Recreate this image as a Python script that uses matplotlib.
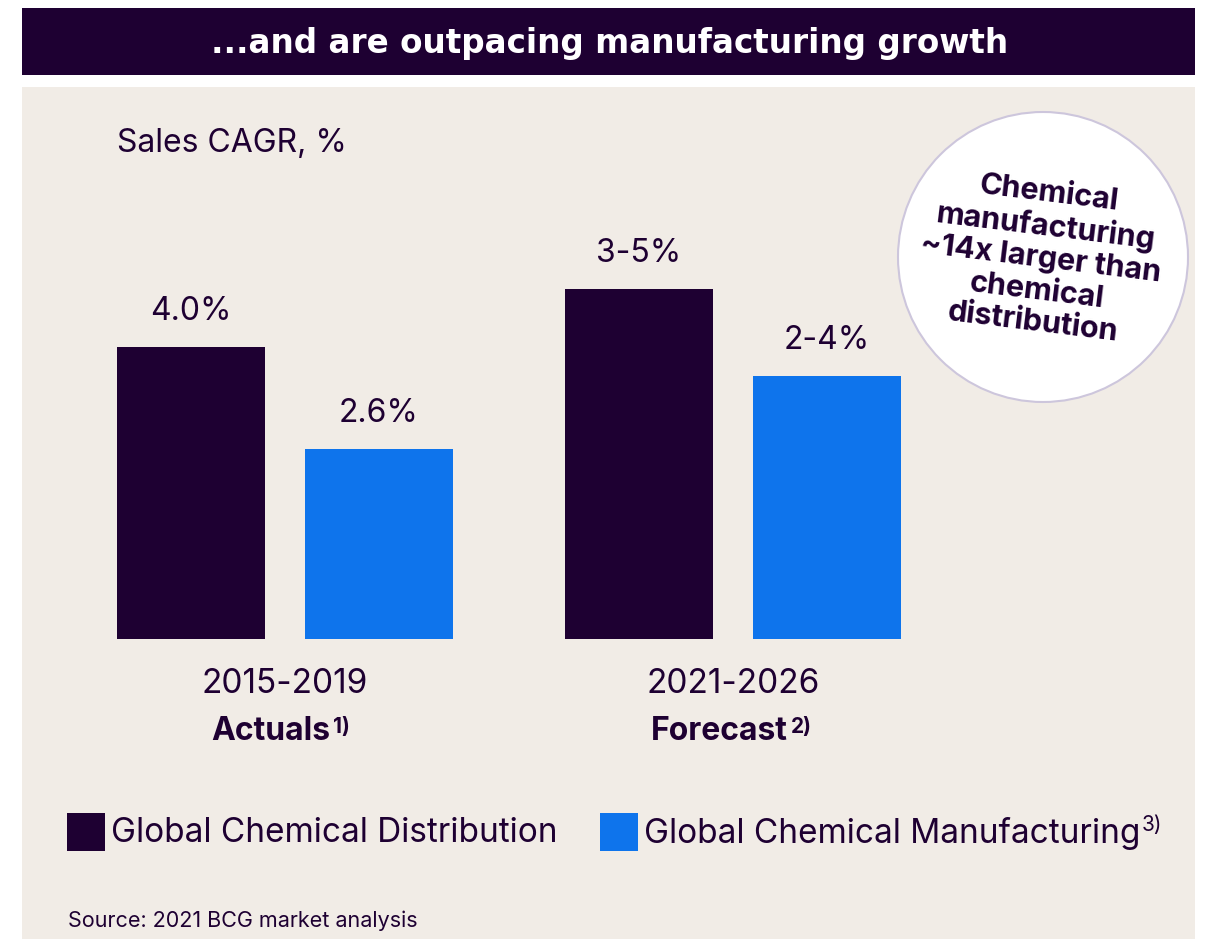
import matplotlib.pyplot as plt
from matplotlib.patches import Rectangle, Circle

plt.rcParams["font.family"] = ["Inter", "DejaVu Sans"]

W, H = 1205, 939
DARK = "#1e0032"
BLUE = "#0e74ec"
BEIGE = "#f1ece6"
RING = "#cdc6dc"

periods = ["2015-2019", "2021-2026"]
period_kinds = ["Actuals", "Forecast"]
period_notes = ["1)", "2)"]
series = ["Global Chemical Distribution", "Global Chemical Manufacturing"]
series_notes = ["", "3)"]
distribution = [4.0, 4.8]
manufacturing = [2.6, 3.6]
distribution_labels = ["4.0%", "3-5%"]
manufacturing_labels = ["2.6%", "2-4%"]
callout = "Chemical\nmanufacturing\n~14x larger than\nchemical\ndistribution"

fig = plt.figure(figsize=(W / 100, H / 100), dpi=100)
fig.patch.set_facecolor("white")

# canvas axes in pixel units (origin top-left)
bg = fig.add_axes([0, 0, 1, 1])
bg.set_xlim(0, W)
bg.set_ylim(H, 0)
bg.axis("off")
bg.add_patch(Rectangle((22, 8), 1173, 67, color=DARK, lw=0))
bg.add_patch(Rectangle((22, 87), 1173, 852, color=BEIGE, lw=0))
bg.text(610, 43, "...and are outpacing manufacturing growth", color="white",
        fontsize=23.5, fontweight="bold", ha="center", va="center",
        family=["DejaVu Sans"])
bg.text(117, 143, "Sales CAGR, %", color=DARK, fontsize=23, ha="left", va="center")

bg.add_patch(Circle((1043, 257), 145, facecolor="white", edgecolor=RING, lw=1.5))
bg.text(1041, 258, callout, color=DARK, fontsize=22, fontweight="bold",
        ha="center", va="center", multialignment="center", rotation=-7,
        rotation_mode="anchor", linespacing=1.18)

# legend
for i, (name, note, color) in enumerate(zip(series, series_notes, [DARK, BLUE])):
    x0 = [67, 600][i]
    bg.add_patch(Rectangle((x0, 813), 38, 38, color=color, lw=0))
    t = bg.text(x0 + 44, 833, name, color=DARK, fontsize=24, ha="left", va="center")
    if note:
        bg.annotate(note, xy=(1, 1), xycoords=t, xytext=(1, 2), textcoords="offset pixels",
                    fontsize=15, color=DARK, ha="left", va="top")

bg.text(68, 921, "Source: 2021 BCG market analysis", color=DARK, fontsize=15.5,
        ha="left", va="center")

# bars
ax = fig.add_axes([22 / W, (H - 639) / H, 1173 / W, 552 / H])
ax.patch.set_alpha(0)
ax.set_xlim(-(285 - 22) / 448, (1195 - 285) / 448)
ax.set_ylim(0, 552 / 73)
ax.axis("off")

off, width = 94 / 448, 148 / 448
xs = range(len(periods))
for vals, labels, color, sign in [(distribution, distribution_labels, DARK, -1),
                                  (manufacturing, manufacturing_labels, BLUE, 1)]:
    for x, v, lab in zip(xs, vals, labels):
        ax.bar(x + sign * off, v, width=width, color=color, lw=0)
        ax.annotate(lab, xy=(x + sign * off, v), xytext=(0, 20), textcoords="offset pixels",
                    ha="center", va="bottom", fontsize=23, color=DARK)

for x, per, kind, note in zip(xs, periods, period_kinds, period_notes):
    ax.annotate(per, xy=(x, 0), xytext=(0, -45), textcoords="offset pixels",
                ha="center", va="center", fontsize=24, color=DARK, annotation_clip=False)
    t = ax.annotate(kind, xy=(x, 0), xytext=(-14, -93), textcoords="offset pixels",
                    ha="center", va="center", fontsize=23, fontweight="bold", color=DARK,
                    annotation_clip=False)
    ax.annotate(note, xy=(1, 1), xycoords=t, xytext=(3, -1), textcoords="offset pixels",
                ha="left", va="top", fontsize=15, fontweight="bold", color=DARK)

fig.savefig("out.png", dpi=100, facecolor=fig.get_facecolor())
